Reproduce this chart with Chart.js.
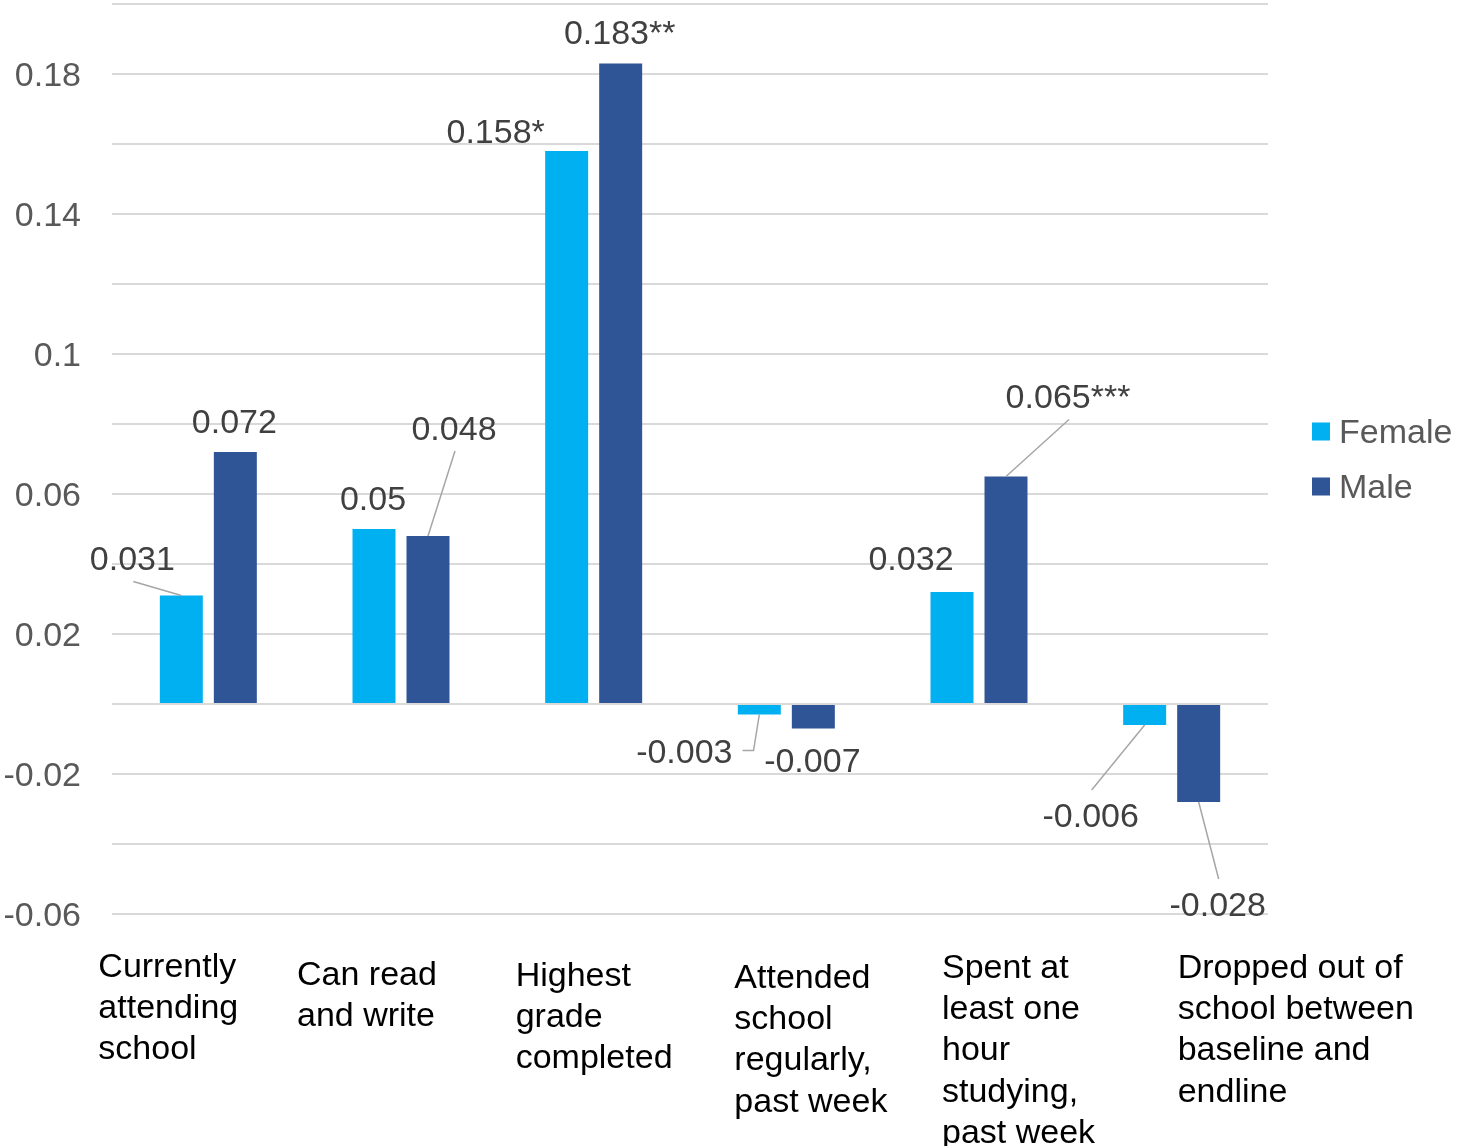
<!DOCTYPE html>
<html>
<head>
<meta charset="utf-8">
<title>Female and male results</title>
<script src="https://cdn.jsdelivr.net/npm/chart.js@4.4.0/dist/chart.umd.min.js"></script>
<style>
  body { margin: 0; background: #fff; }
  canvas { display: block; }
</style>
</head>
<body>
<canvas id="myChart" width="1460" height="1146"></canvas>
<script>
// data
var categories = [
  ["Currently", "attending", "school"],
  ["Can read", "and write"],
  ["Highest", "grade", "completed"],
  ["Attended", "school", "regularly,", "past week"],
  ["Spent at", "least one", "hour", "studying,", "past week"],
  ["Dropped out of", "school between", "baseline and", "endline"]
];
var female = [0.031, 0.05, 0.158, -0.003, 0.032, -0.006];
var male = [0.072, 0.048, 0.183, -0.007, 0.065, -0.028];
var femaleStars = ["", "", "*", "", "", ""];
var maleStars = ["", "", "**", "", "***", ""];
var yTickLabels = [-0.06, -0.02, 0.02, 0.06, 0.1, 0.14, 0.18];

// where the value labels sit, relative to the end of each bar (px)
var labelOffsets = [
  [[-49, -37], [-1, -31], [-71, -20], [-75, 37], [-41, -34], [-54, 90]],
  [[-1, -31], [26, -108], [-1, -31], [-1, 32], [62, -80], [19, 102]]
];
// 0 = no leader line, 1 = straight line to label, 2 = line to label side
var leaders = [
  [1, 0, 0, 2, 0, 1],
  [0, 1, 0, 0, 1, 1]
];
// category label blocks: left edge relative to category centre, first line centre below the plot
var catLabelDx = [-110, -104, -78, -52, -37, 6];
var catLabelDy = [51, 59, 60, 62, 52, 52];

var fontFamily = '"Liberation Sans", Arial, sans-serif';
var textShift = 2.5; // canvas "middle" sits a little above the cap centre

var extras = {
  id: "extras",
  afterDatasetsDraw: function (chart) {
    var ctx = chart.ctx;
    ctx.save();
    ctx.font = "34px " + fontFamily;
    ctx.textAlign = "center";
    ctx.textBaseline = "middle";
    chart.data.datasets.forEach(function (ds, d) {
      var meta = chart.getDatasetMeta(d);
      meta.data.forEach(function (bar, i) {
        var off = labelOffsets[d][i];
        var lx = bar.x + off[0];
        var ly = bar.y + off[1];
        var text = String(ds.data[i]) + ds.stars[i];
        ctx.strokeStyle = "#A6A6A6";
        ctx.lineWidth = 1.5;
        if (leaders[d][i] === 1) {
          ctx.beginPath();
          ctx.moveTo(bar.x, bar.y);
          ctx.lineTo(lx + 1, off[1] < 0 ? ly + 23 : ly - 25);
          ctx.stroke();
        } else if (leaders[d][i] === 2) {
          var w = ctx.measureText(text).width;
          ctx.beginPath();
          ctx.moveTo(bar.x, bar.y);
          ctx.lineTo(lx + w / 2 + 21, ly - 1);
          ctx.lineTo(lx + w / 2 + 10, ly - 1);
          ctx.stroke();
        }
        ctx.fillStyle = "#404040";
        ctx.fillText(text, lx, ly + textShift);
      });
    });
    ctx.restore();
  },
  afterDraw: function (chart) {
    var ctx = chart.ctx;
    var area = chart.chartArea;
    var xScale = chart.scales.x;
    ctx.save();
    ctx.font = "34px " + fontFamily;
    ctx.textBaseline = "middle";

    // category labels
    ctx.textAlign = "left";
    ctx.fillStyle = "#000000";
    categories.forEach(function (lines, i) {
      var x = xScale.getPixelForValue(i) + catLabelDx[i];
      var y = area.bottom + catLabelDy[i] + textShift;
      lines.forEach(function (line, k) {
        ctx.fillText(line, x, y + k * 41.3);
      });
    });

    // legend
    var mid = (area.top + area.bottom) / 2;
    chart.data.datasets.forEach(function (ds, d) {
      var y = mid + (d - 0.5) * 55;
      ctx.fillStyle = ds.backgroundColor;
      ctx.fillRect(area.right + 44, y - 9, 18, 18);
      ctx.fillStyle = "#595959";
      ctx.fillText(ds.label, area.right + 71, y + textShift);
    });
    ctx.restore();
  }
};

new Chart("myChart", {
  type: "bar",
  data: {
    labels: categories,
    datasets: [
      { label: "Female", data: female, stars: femaleStars, backgroundColor: "#00B0F0" },
      { label: "Male", data: male, stars: maleStars, backgroundColor: "#2F5597" }
    ]
  },
  options: {
    responsive: false,
    animation: false,
    layout: { padding: { left: 3, right: 192, top: 4, bottom: 232 } },
    datasets: {
      bar: { categoryPercentage: 0.5606, barPercentage: 0.796 }
    },
    scales: {
      x: {
        ticks: { display: false },
        grid: { display: false, drawTicks: false },
        border: { display: false }
      },
      y: {
        min: -0.06,
        max: 0.2,
        afterFit: function (scale) {
          // labels end ~31px left of the plot, no extra room above the top line
          scale.width = 109;
          scale.paddingTop = 0;
        },
        ticks: {
          stepSize: 0.02,
          padding: 31,
          labelOffset: 2.5,
          color: "#595959",
          font: { family: fontFamily, size: 34, lineHeight: 0.2 },
          callback: function (value) {
            var show = yTickLabels.some(function (t) { return Math.abs(t - value) < 1e-9; });
            return show ? String(Math.round(value * 100) / 100) : "";
          }
        },
        grid: { color: "#D9D9D9", lineWidth: 2, drawTicks: false },
        border: { display: false }
      }
    },
    plugins: {
      legend: { display: false },
      tooltip: { enabled: false }
    }
  },
  plugins: [extras]
});
</script>
</body>
</html>
